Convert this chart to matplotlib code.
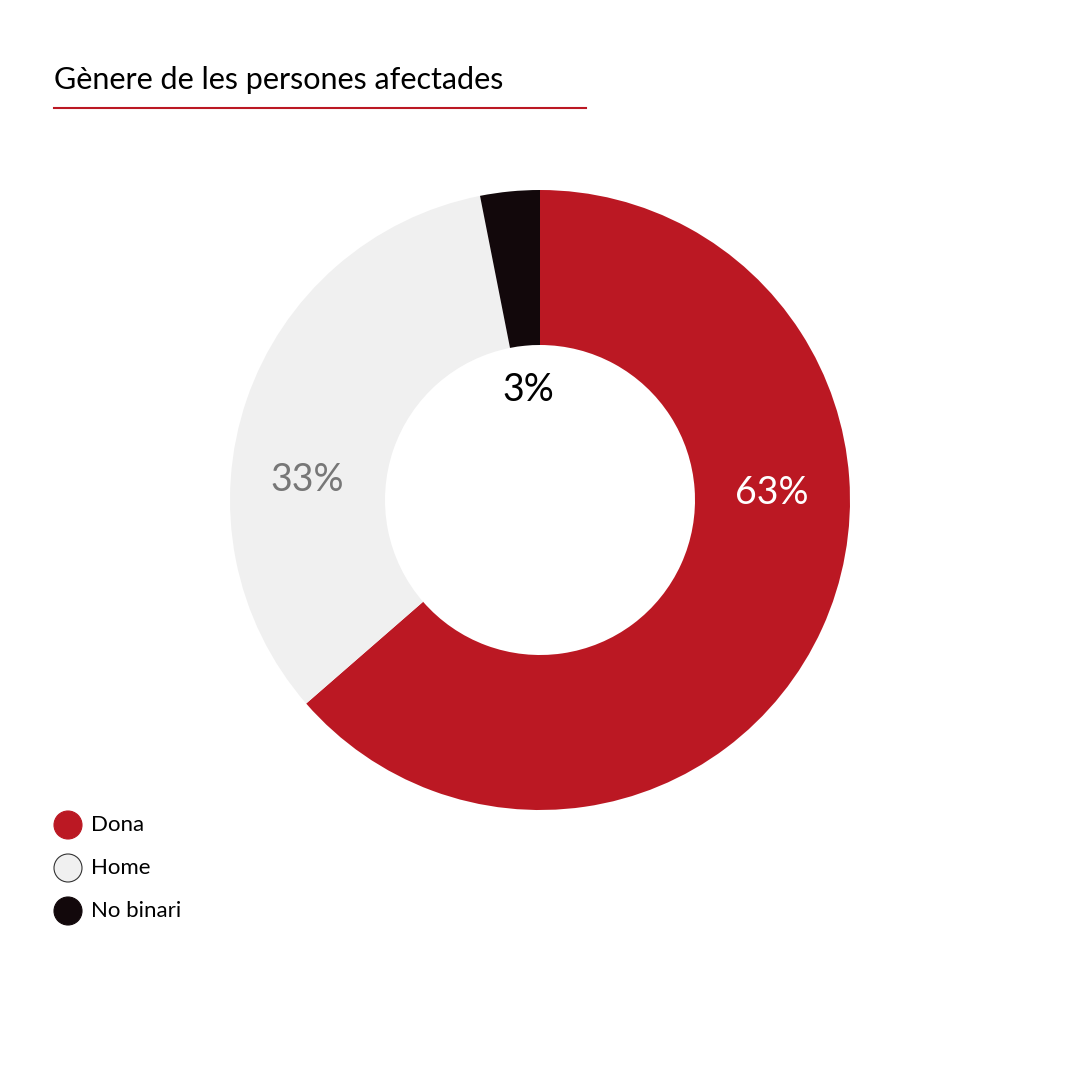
import matplotlib
matplotlib.use("Agg")
import matplotlib.pyplot as plt
from matplotlib.patches import Circle
from matplotlib.lines import Line2D

categories = ["Dona", "Home", "No binari"]
values = [63.6, 33.3, 3.1]
labels = ["63%", "33%", "3%"]
colors = ["#bb1823", "#f0f0f0", "#12080b"]
label_colors = ["white", "#777777", "black"]

fig = plt.figure(figsize=(10.8, 10.8), dpi=100)
ax = fig.add_axes([230/1080, 270/1080, 620/1080, 620/1080])
ax.pie(values, colors=colors, startangle=90, counterclock=False, radius=1,
       wedgeprops=dict(width=0.5, linewidth=0))
ax.set_xlim(-1, 1); ax.set_ylim(-1, 1); ax.set_aspect("equal"); ax.axis("off")

label_px = [(772, 493), (307, 480), (528, 390)]
for (px, py), t, c in zip(label_px, labels, label_colors):
    ax.text((px-540)/310, (500-py)/310, t, color=c, fontsize=27, ha="center", va="center",
            family="DejaVu Sans Mono" if False else "Lato")

fig.text(54/1080, 1-80/1080, "Gènere de les persones afectades", fontsize=22, family="Lato",
         va="center", ha="left")
fig.add_artist(Line2D([54/1080, 586/1080], [1-108/1080]*2, color="#bb1823", lw=1.5))

for i, (cat, col) in enumerate(zip(categories, colors)):
    y = 825 + 43*i
    fig.add_artist(Circle((68/1080, 1-y/1080), 14/1080, facecolor=col,
                          edgecolor="#333333" if i == 1 else col, lw=0.8,
                          transform=fig.transFigure))
    fig.text(91/1080, 1-y/1080, cat, fontsize=16, family="Lato", va="center", ha="left")

fig.savefig("out.png", dpi=100, facecolor="white")
